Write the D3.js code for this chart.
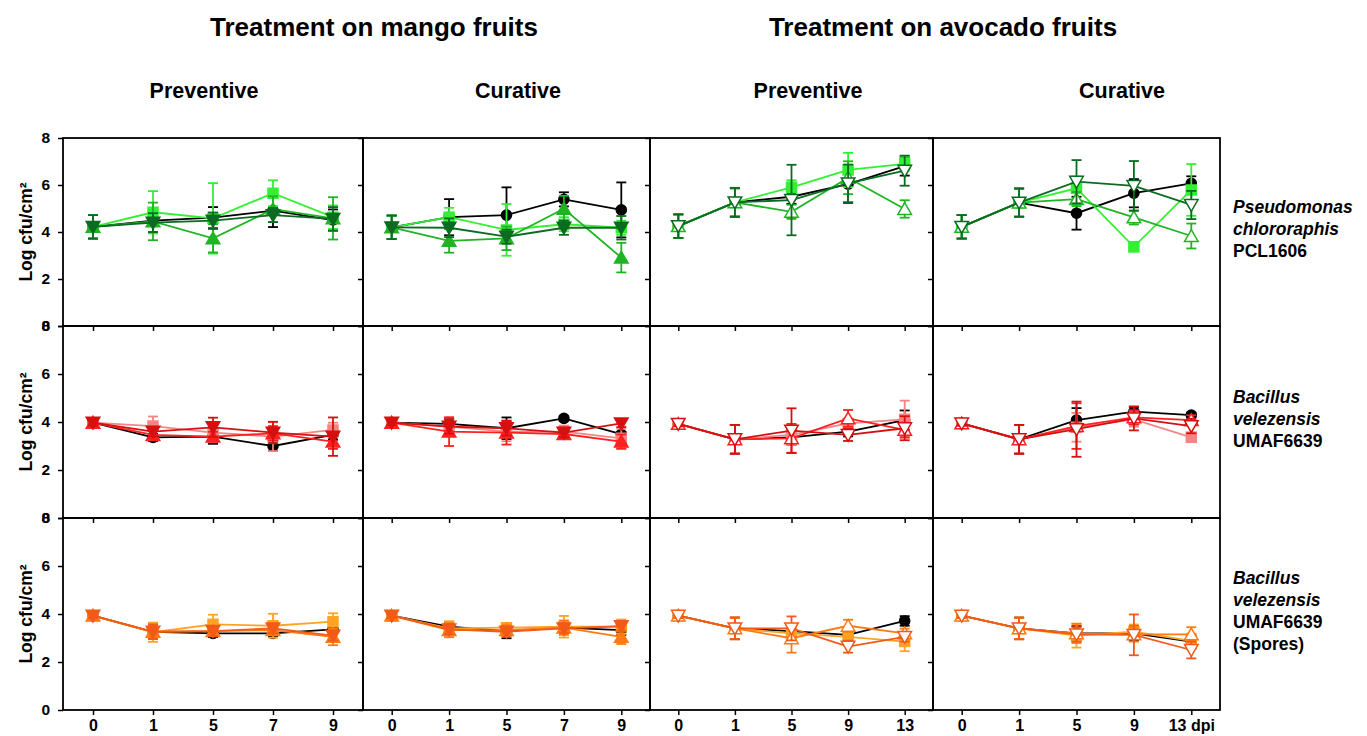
<!DOCTYPE html>
<html><head><meta charset="utf-8">
<script src="https://cdn.jsdelivr.net/npm/d3@7"></script>
<style>
body{margin:0;background:#fff}
text{font-family:"Liberation Sans",Arial,Helvetica,sans-serif;font-weight:bold;fill:#000}
</style>
</head><body>
<svg id="chart" width="1367" height="736"></svg>
<script>
// ---------------- data ----------------
const fruitTitles = ["Treatment on mango fruits", "Treatment on avocado fruits"];
const treatmentTitles = ["Preventive", "Curative", "Preventive", "Curative"];
const mangoDays = ["0", "1", "5", "7", "9"];
const avocadoDays = ["0", "1", "5", "9", "13"];
const yTicks = [0, 2, 4, 6, 8];
const yLabel = "Log cfu/cm²";
const lastDayUnit = "dpi";
const strainLines = [
  ["Pseudomonas", "chlororaphis", "PCL1606"],
  ["Bacillus", "velezensis", "UMAF6639"],
  ["Bacillus", "velezensis", "UMAF6639", "(Spores)"]
];
const strainItalic = [
  [true, true, false],
  [true, true, false],
  [true, true, false, false]
];
// series order: control (circle), square, triangle-up, triangle-down
const greenColors = ["#000000", "#33f033", "#1fb424", "#0c6b22"];
const redColors = ["#000000", "#f58585", "#ff2020", "#d61010"];
const orangeColors = ["#000000", "#ffa324", "#ff7a14", "#f25a18"];

// Row 1: Pseudomonas chlororaphis PCL1606
const pclMangoPrevMean = [[4.22,4.48,4.61,4.91,4.51],[4.22,4.84,4.58,5.65,4.63],[4.22,4.45,3.73,4.97,4.58],[4.22,4.40,4.48,4.72,4.56]];
const pclMangoPrevErr  = [[0.5,0.5,0.45,0.7,0.45],[0.5,0.9,1.5,0.55,0.5],[0.5,0.8,0.6,0.55,0.9],[0.5,0.4,0.35,0.3,0.5]];
const pclMangoCurMean  = [[4.20,4.63,4.72,5.39,4.94],[4.20,4.63,4.09,4.33,4.18],[4.20,3.62,3.73,4.99,2.91],[4.20,4.18,3.80,4.18,4.18]];
const pclMangoCurErr   = [[0.5,0.77,1.18,0.3,1.17],[0.5,0.4,1.1,0.3,0.3],[0.5,0.5,0.5,0.55,0.63],[0.5,0.4,0.3,0.3,0.5]];
const pclAvoPrevMean   = [[4.25,5.26,5.50,6.04,6.80],[4.25,5.26,5.90,6.64,6.90],[4.25,5.26,4.86,6.31,4.98],[4.25,5.26,5.36,6.07,6.61]];
const pclAvoPrevErr    = [[0.5,0.6,0.3,0.8,0.4],[0.5,0.6,0.3,0.73,0.3],[0.5,0.6,0.3,0.7,0.37],[0.5,0.62,1.5,0.8,0.64]];
const pclAvoCurMean    = [[4.22,5.25,4.80,5.65,6.07],[4.22,5.25,5.86,3.37,5.79],[4.22,5.25,5.40,4.62,3.83],[4.22,5.25,6.14,5.96,5.15]];
const pclAvoCurErr     = [[0.5,0.6,0.7,0.6,0.3],[0.5,0.6,0.5,0.2,1.1],[0.5,0.6,0.3,0.3,0.53],[0.5,0.6,0.92,1.06,0.6]];

// Row 2: Bacillus velezensis UMAF6639
const umafMangoPrevMean = [[3.97,3.36,3.39,3.00,3.46],[3.97,3.83,3.56,3.39,3.67],[3.97,3.46,3.39,3.53,3.18],[3.97,3.60,3.78,3.56,3.39]];
const umafMangoPrevErr  = [[0.12,0.15,0.3,0.2,0.2],[0.12,0.4,0.4,0.6,0.3],[0.12,0.2,0.2,0.3,0.3],[0.12,0.2,0.4,0.45,0.8]];
const umafMangoCurMean  = [[3.97,3.92,3.74,4.15,3.49],[3.97,3.81,3.60,3.60,3.32],[3.97,3.60,3.56,3.50,3.18],[3.97,3.81,3.74,3.56,3.94]];
const umafMangoCurErr   = [[0.1,0.2,0.45,0.1,0.1],[0.1,0.3,0.4,0.25,0.4],[0.1,0.6,0.5,0.2,0.3],[0.1,0.3,0.3,0.2,0.15]];
const umafAvoPrevMean   = [[3.92,3.28,3.36,3.60,4.08],[3.92,3.28,3.46,3.94,4.11],[3.92,3.28,3.32,4.15,3.67],[3.92,3.28,3.64,3.46,3.74]];
const umafAvoPrevErr    = [[0.1,0.6,0.3,0.2,0.4],[0.1,0.6,0.4,0.2,0.78],[0.1,0.6,0.6,0.35,0.3],[0.1,0.6,0.93,0.25,0.5]];
const umafAvoCurMean    = [[3.94,3.28,4.08,4.43,4.29],[3.94,3.28,3.78,4.11,3.36],[3.94,3.28,3.83,4.19,4.08],[3.94,3.28,3.70,4.15,3.83]];
const umafAvoCurErr     = [[0.1,0.6,0.5,0.2,0.1],[0.1,0.6,0.6,0.3,0.2],[0.1,0.6,0.95,0.3,0.2],[0.1,0.6,1.15,0.5,0.3]];

// Row 3: Bacillus velezensis UMAF6639 (Spores)
const sporeMangoPrevMean = [[3.93,3.26,3.19,3.19,3.36],[3.93,3.24,3.57,3.51,3.68],[3.93,3.26,3.29,3.33,3.05],[3.93,3.26,3.29,3.40,3.10]];
const sporeMangoPrevErr  = [[0.1,0.3,0.15,0.15,0.15],[0.1,0.4,0.4,0.5,0.35],[0.1,0.3,0.2,0.2,0.35],[0.1,0.3,0.2,0.2,0.2]];
const sporeMangoCurMean  = [[3.93,3.47,3.29,3.43,3.33],[3.93,3.40,3.43,3.47,3.47],[3.93,3.33,3.33,3.43,3.05],[3.93,3.36,3.26,3.40,3.49]];
const sporeMangoCurErr   = [[0.1,0.2,0.3,0.2,0.2],[0.1,0.3,0.2,0.45,0.3],[0.1,0.3,0.2,0.3,0.3],[0.1,0.2,0.2,0.2,0.2]];
const sporeAvoPrevMean   = [[3.93,3.40,3.29,3.13,3.71],[3.93,3.40,3.19,3.05,2.85],[3.93,3.40,2.99,3.51,3.19],[3.93,3.40,3.40,2.64,3.05]];
const sporeAvoPrevErr    = [[0.1,0.45,0.2,0.2,0.2],[0.1,0.45,0.4,0.3,0.4],[0.1,0.45,0.6,0.25,0.2],[0.1,0.45,0.5,0.25,0.2]];
const sporeAvoCurMean    = [[3.93,3.40,3.19,3.19,2.85],[3.93,3.40,3.10,3.26,2.88],[3.93,3.40,3.19,3.15,3.15],[3.93,3.40,3.15,3.13,2.50]];
const sporeAvoCurErr     = [[0.1,0.45,0.3,0.3,0.3],[0.1,0.45,0.5,0.3,0.3],[0.1,0.45,0.4,0.3,0.3],[0.1,0.45,0.3,0.85,0.35]];

// ---------------- layout ----------------
const colEdges = [63, 363, 650, 933, 1220];
const rowEdges = [138, 326, 518, 710];
const fruitTitleX = [374, 943];
const treatmentTitleX = [204, 518, 808, 1122];

const panels = [
  [[pclMangoPrevMean, pclMangoPrevErr], [pclMangoCurMean, pclMangoCurErr], [pclAvoPrevMean, pclAvoPrevErr], [pclAvoCurMean, pclAvoCurErr]],
  [[umafMangoPrevMean, umafMangoPrevErr], [umafMangoCurMean, umafMangoCurErr], [umafAvoPrevMean, umafAvoPrevErr], [umafAvoCurMean, umafAvoCurErr]],
  [[sporeMangoPrevMean, sporeMangoPrevErr], [sporeMangoCurMean, sporeMangoCurErr], [sporeAvoPrevMean, sporeAvoPrevErr], [sporeAvoCurMean, sporeAvoCurErr]]
];
const rowColors = [greenColors, redColors, orangeColors];
const colDays = [mangoDays, mangoDays, avocadoDays, avocadoDays];
const colOpen = [false, false, true, true];

const svg = d3.select("#chart");
const FONT = '"Liberation Sans",Arial,Helvetica,sans-serif';

// titles
fruitTitles.forEach((t, i) => {
  svg.append("text")
    .attr("x", fruitTitleX[i]).attr("y", 36).attr("text-anchor", "middle")
    .style("font-size", "26px").text(t);
});
treatmentTitles.forEach((t, i) => {
  svg.append("text")
    .attr("x", treatmentTitleX[i]).attr("y", 98).attr("text-anchor", "middle")
    .style("font-size", "21.5px").text(t);
});

const symTri = d3.symbol().type(d3.symbolTriangle).size(80);
const symSq = d3.symbol().type(d3.symbolSquare).size(100);
const symCirc = d3.symbol().type(d3.symbolCircle).size(80);

panels.forEach((rowPanels, r) => {
  const y = d3.scaleLinear().domain([0, 8]).range([rowEdges[r + 1], rowEdges[r]]);
  const colors = rowColors[r];

  // y label
  const yc = (rowEdges[r] + rowEdges[r + 1]) / 2;
  svg.append("text")
    .attr("transform", `translate(32,${yc}) rotate(-90)`)
    .attr("text-anchor", "middle").style("font-size", "17.5px").text(yLabel);

  // strain label
  const lines = strainLines[r];
  const lh = 22;
  const startY = yc - (lines.length - 1) * lh / 2 + 3;
  lines.forEach((ln, k) => {
    svg.append("text").attr("x", 1233).attr("y", startY + k * lh)
      .style("font-size", "17.5px")
      .style("font-style", strainItalic[r][k] ? "italic" : "normal")
      .text(ln);
  });

  rowPanels.forEach((pd, c) => {
    const [means, errs] = pd;
    const days = colDays[c];
    const x = d3.scalePoint().domain(days).range([colEdges[c], colEdges[c + 1]]).padding(0.5);
    const g = svg.append("g");

    // y axis (ticks outward on left edge)
    const ya = d3.axisLeft(y).tickValues(yTicks).tickSize(5).tickPadding(8);
    if (c > 0) ya.tickFormat("");
    const yg = g.append("g").attr("transform", `translate(${colEdges[c]},0)`).call(ya);
    yg.select(".domain").remove();
    yg.selectAll("line").attr("stroke", "#000").attr("stroke-width", 1.5);
    yg.selectAll("text").style("font-size", "15.5px").style("font-family", FONT).style("font-weight", "bold").attr("fill", "#000");

    // x axis ticks at bottom
    const xa = d3.axisBottom(x).tickSize(5).tickPadding(5);
    if (r < 2) xa.tickFormat("");
    else if (c === 3) xa.tickFormat(d => d === days[days.length - 1] ? d + " " + lastDayUnit : d);
    const xg = g.append("g").attr("transform", `translate(0,${rowEdges[r + 1]})`).call(xa);
    xg.select(".domain").remove();
    xg.selectAll("line").attr("stroke", "#000").attr("stroke-width", 1.5);
    xg.selectAll("text").style("font-size", "16px").style("font-family", FONT).style("font-weight", "bold").attr("fill", "#000");

    // series
    means.forEach((vals, s) => {
      const col = colors[s];
      const pts = vals.map((v, i) => ({ d: days[i], v, e: errs[s][i] }));
      const line = d3.line().x(p => x(p.d)).y(p => y(p.v));
      g.append("path").datum(pts).attr("d", line)
        .attr("fill", "none").attr("stroke", col).attr("stroke-width", 1.8);
      // error bars
      const eb = g.append("g").attr("stroke", col).attr("stroke-width", 1.8);
      pts.forEach(p => {
        const cx = x(p.d);
        eb.append("line").attr("x1", cx).attr("x2", cx).attr("y1", y(p.v + p.e)).attr("y2", y(p.v - p.e));
        eb.append("line").attr("x1", cx - 5).attr("x2", cx + 5).attr("y1", y(p.v + p.e)).attr("y2", y(p.v + p.e));
        eb.append("line").attr("x1", cx - 5).attr("x2", cx + 5).attr("y1", y(p.v - p.e)).attr("y2", y(p.v - p.e));
      });
      // markers
      pts.forEach(p => {
        const cx = x(p.d), cy = y(p.v);
        let path, rot = 0, fill = col, stroke = col;
        if (s === 0) path = symCirc();
        else if (s === 1) path = symSq();
        else { path = symTri(); if (s === 3) rot = 180; }
        if (s >= 2 && colOpen[c]) fill = "#fff";
        g.append("path").attr("d", path)
          .attr("transform", `translate(${cx},${cy + (s === 2 ? 1.5 : s === 3 ? -1.5 : 0)}) rotate(${rot})`)
          .attr("fill", fill).attr("stroke", stroke).attr("stroke-width", 1.5);
      });
    });
  });
});

// panel borders
for (let r = 0; r < 3; r++) {
  for (let c = 0; c < 4; c++) {
    svg.append("rect")
      .attr("x", colEdges[c]).attr("y", rowEdges[r])
      .attr("width", colEdges[c + 1] - colEdges[c]).attr("height", rowEdges[r + 1] - rowEdges[r])
      .attr("fill", "none").attr("stroke", "#000").attr("stroke-width", 1.8);
  }
}
</script>
</body></html>
